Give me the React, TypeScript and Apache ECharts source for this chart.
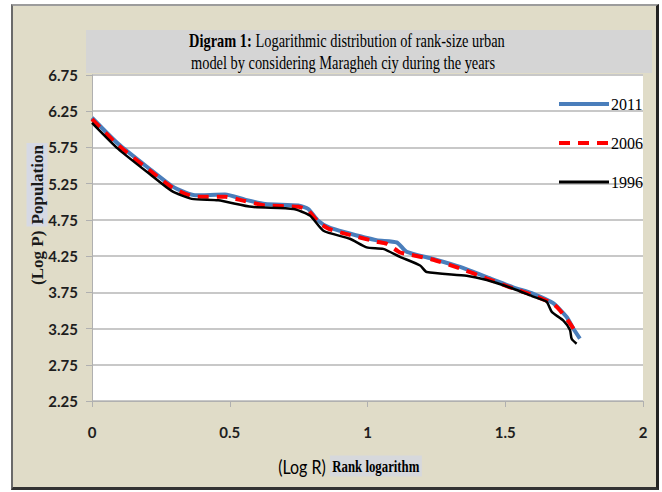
import React, { useEffect, useRef } from "react";
import * as echarts from "echarts";

// Log R (x) and Log P (y) values
const x2011 = [0, 0.095, 0.217, 0.289, 0.338, 0.374, 0.483, 0.555, 0.628, 0.749, 0.785, 0.821, 0.858, 0.918, 1.033, 1.106, 1.142, 1.239, 1.336, 1.433, 1.529, 1.602, 1.674, 1.723, 1.747, 1.771];
const y2011 = [6.16, 5.8, 5.43, 5.22, 5.13, 5.09, 5.1, 5.03, 4.97, 4.95, 4.9, 4.74, 4.65, 4.58, 4.47, 4.44, 4.31, 4.21, 4.1, 3.96, 3.82, 3.73, 3.6, 3.41, 3.25, 3.11];

const x2006 = [0, 0.095, 0.217, 0.289, 0.338, 0.374, 0.483, 0.555, 0.628, 0.749, 0.785, 0.821, 0.858, 0.918, 1.033, 1.07, 1.118, 1.142, 1.239, 1.336, 1.433, 1.517, 1.614, 1.674, 1.699, 1.735, 1.759];
const y2006 = [6.14, 5.78, 5.41, 5.2, 5.11, 5.07, 5.07, 5.01, 4.95, 4.93, 4.88, 4.72, 4.63, 4.56, 4.45, 4.42, 4.3, 4.28, 4.2, 4.08, 3.94, 3.82, 3.69, 3.59, 3.5, 3.32, 3.18];

const x1996 = [0, 0.095, 0.217, 0.289, 0.362, 0.458, 0.58, 0.731, 0.791, 0.84, 0.936, 0.997, 1.057, 1.118, 1.191, 1.215, 1.36, 1.433, 1.529, 1.602, 1.65, 1.669, 1.711, 1.735, 1.741, 1.759];
const y1996 = [6.09, 5.73, 5.36, 5.15, 5.04, 5.02, 4.93, 4.9, 4.81, 4.6, 4.49, 4.37, 4.35, 4.24, 4.12, 4.03, 3.98, 3.92, 3.8, 3.69, 3.62, 3.48, 3.36, 3.23, 3.11, 3.04];

const seriesNames = ["2011", "2006", "1996"];
const titleLine1 = "Logarithmic distribution of rank-size urban";
const titleBold = "Digram 1:";
const titleLine2 = "model by considering Maragheh ciy during the years";
const xNameA = "(Log R)";
const xNameB = "Rank logarithm";
const yNameA = "(Log P)";
const yNameB = "Population";

const zip = (xs: number[], ys: number[]) => xs.map((x, i) => [x, ys[i]]);

const SERIF = "'Liberation Serif', 'Times New Roman', serif";
const SANS = "Lato, 'Open Sans', sans-serif";

export default function App() {
  const ref = useRef<HTMLDivElement>(null);

  useEffect(() => {
    if (!ref.current) return;
    const chart = echarts.init(ref.current, null, { renderer: "svg" });
    const labelStyle = { fontFamily: SANS, fontWeight: "bold", fontSize: 15, color: "#1e1e1e" };
    chart.setOption({
      animation: false,
      backgroundColor: "transparent",
      grid: {
        left: 92,
        right: 19,
        top: 75,
        bottom: 91,
        show: true,
        backgroundColor: "#ffffff",
        borderWidth: 0,
      },
      xAxis: {
        type: "value",
        min: 0,
        max: 2,
        interval: 0.5,
        splitLine: { show: false },
        axisLine: { show: true, lineStyle: { color: "#b0b0b0", width: 1 } },
        axisTick: { show: true, inside: false, length: 6, lineStyle: { color: "#b0b0b0" } },
        axisLabel: { ...labelStyle, margin: 23 },
      },
      yAxis: {
        type: "value",
        min: 2.25,
        max: 6.75,
        interval: 0.5,
        splitLine: { show: true, lineStyle: { color: "#c8c8c8", width: 2 } },
        axisLine: { show: true, lineStyle: { color: "#b0b0b0", width: 1 } },
        axisTick: { show: true, inside: false, length: 6, lineStyle: { color: "#b0b0b0" } },
        axisLabel: { ...labelStyle, margin: 14, formatter: (v: number) => v.toFixed(2) },
      },
      legend: {
        orient: "vertical",
        left: 552,
        top: 91,
        itemWidth: 50,
        itemHeight: 14,
        itemGap: 23,
        itemStyle: { opacity: 0 },
        textStyle: { fontFamily: SERIF, fontSize: 16, color: "#000", padding: [0, 0, 0, -3] },
        data: [
          { name: seriesNames[0], itemStyle: { opacity: 0 }, lineStyle: { width: 4, opacity: 1 } },
          { name: seriesNames[1], itemStyle: { opacity: 0 }, lineStyle: { width: 4, opacity: 1 } },
          { name: seriesNames[2], itemStyle: { opacity: 0 }, lineStyle: { width: 3, opacity: 1 } },
        ],
      },
      series: [
        {
          name: seriesNames[0],
          type: "line",
          symbol: "none",
          smooth: 0.2,
          data: zip(x2011, y2011),
          lineStyle: { color: "#4a7ebb", width: 4 },
          itemStyle: { color: "#4a7ebb" },
        },
        {
          name: seriesNames[1],
          type: "line",
          symbol: "none",
          smooth: 0.2,
          data: zip(x2006, y2006),
          lineStyle: { color: "#ff0000", width: 4, type: [11, 8] },
          itemStyle: { color: "#ff0000" },
        },
        {
          name: seriesNames[2],
          type: "line",
          symbol: "none",
          smooth: 0.2,
          data: zip(x1996, y1996),
          lineStyle: { color: "#000000", width: 2.5 },
          itemStyle: { color: "#000000" },
        },
      ],
      graphic: [
        {
          type: "rect",
          shape: { x: 86, y: 30, width: 566, height: 43 },
          style: { fill: "#d5d5d5" },
          silent: true,
        },
        {
          type: "text",
          x: 347,
          y: 41,
          scaleX: 0.8,
          style: {
            text: `{b|${titleBold}} {n|${titleLine1}}`,
            rich: {
              b: { fontFamily: SERIF, fontSize: 18, fontWeight: "bold", fill: "#000" },
              n: { fontFamily: SERIF, fontSize: 18, fontWeight: "normal", fill: "#000" },
            },
            fontFamily: SERIF,
            fontSize: 18,
            fill: "#000",
            align: "center",
            textAlign: "center",
            verticalAlign: "middle",
            textVerticalAlign: "middle",
          },
        },
        {
          type: "text",
          x: 343,
          y: 63,
          scaleX: 0.8,
          style: {
            text: titleLine2,
            fontFamily: SERIF,
            fontSize: 18,
            fill: "#000",
            align: "center",
            textAlign: "center",
            verticalAlign: "middle",
            textVerticalAlign: "middle",
          },
        },
        {
          type: "text",
          x: 350,
          y: 466,
          scaleX: 0.8,
          style: {
            text: `{a|${xNameA}} {b|${xNameB}}`,
            rich: {
              a: { fontFamily: SANS, fontSize: 20, fontWeight: "normal", fill: "#000" },
              b: {
                fontFamily: SERIF,
                fontSize: 16,
                fontWeight: "bold",
                fill: "#000",
                backgroundColor: "#d6d8dc",
                padding: [3, 3, 2, 3],
              },
            },
            fontFamily: SANS,
            fontSize: 20,
            fill: "#000",
            align: "center",
            textAlign: "center",
            verticalAlign: "middle",
            textVerticalAlign: "middle",
          },
        },
        {
          type: "text",
          x: 37,
          y: 214,
          rotation: Math.PI / 2,
          style: {
            text: `{a|${yNameA}} {b|${yNameB}}`,
            rich: {
              a: { fontFamily: SERIF, fontSize: 17, fontWeight: "bold", fill: "#1a1a1a" },
              b: {
                fontFamily: SERIF,
                fontSize: 17,
                fontWeight: "bold",
                fill: "#1a1a1a",
                backgroundColor: "#d6d9e4",
                padding: [2, 2, 2, 2],
              },
            },
            fontFamily: SERIF,
            fontSize: 17,
            fill: "#1a1a1a",
            align: "center",
            textAlign: "center",
            verticalAlign: "middle",
            textVerticalAlign: "middle",
          },
        },
      ],
    });
    return () => chart.dispose();
  }, []);

  return (
    <div style={{ position: "fixed", left: 0, top: 0, width: 662, height: 492, background: "#ffffff" }}>
      <div
        style={{
          position: "absolute",
          left: 11,
          top: 4,
          width: 648,
          height: 486,
          boxSizing: "border-box",
          background: "#e0dcc8",
          borderTop: "2px solid #9c9c9c",
          borderLeft: "2px solid #6a6a6a",
          borderRight: "3px solid #222222",
          borderBottom: "3px solid #333333",
        }}
      />
      <div ref={ref} style={{ position: "absolute", left: 0, top: 0, width: 662, height: 492 }} />
    </div>
  );
}
